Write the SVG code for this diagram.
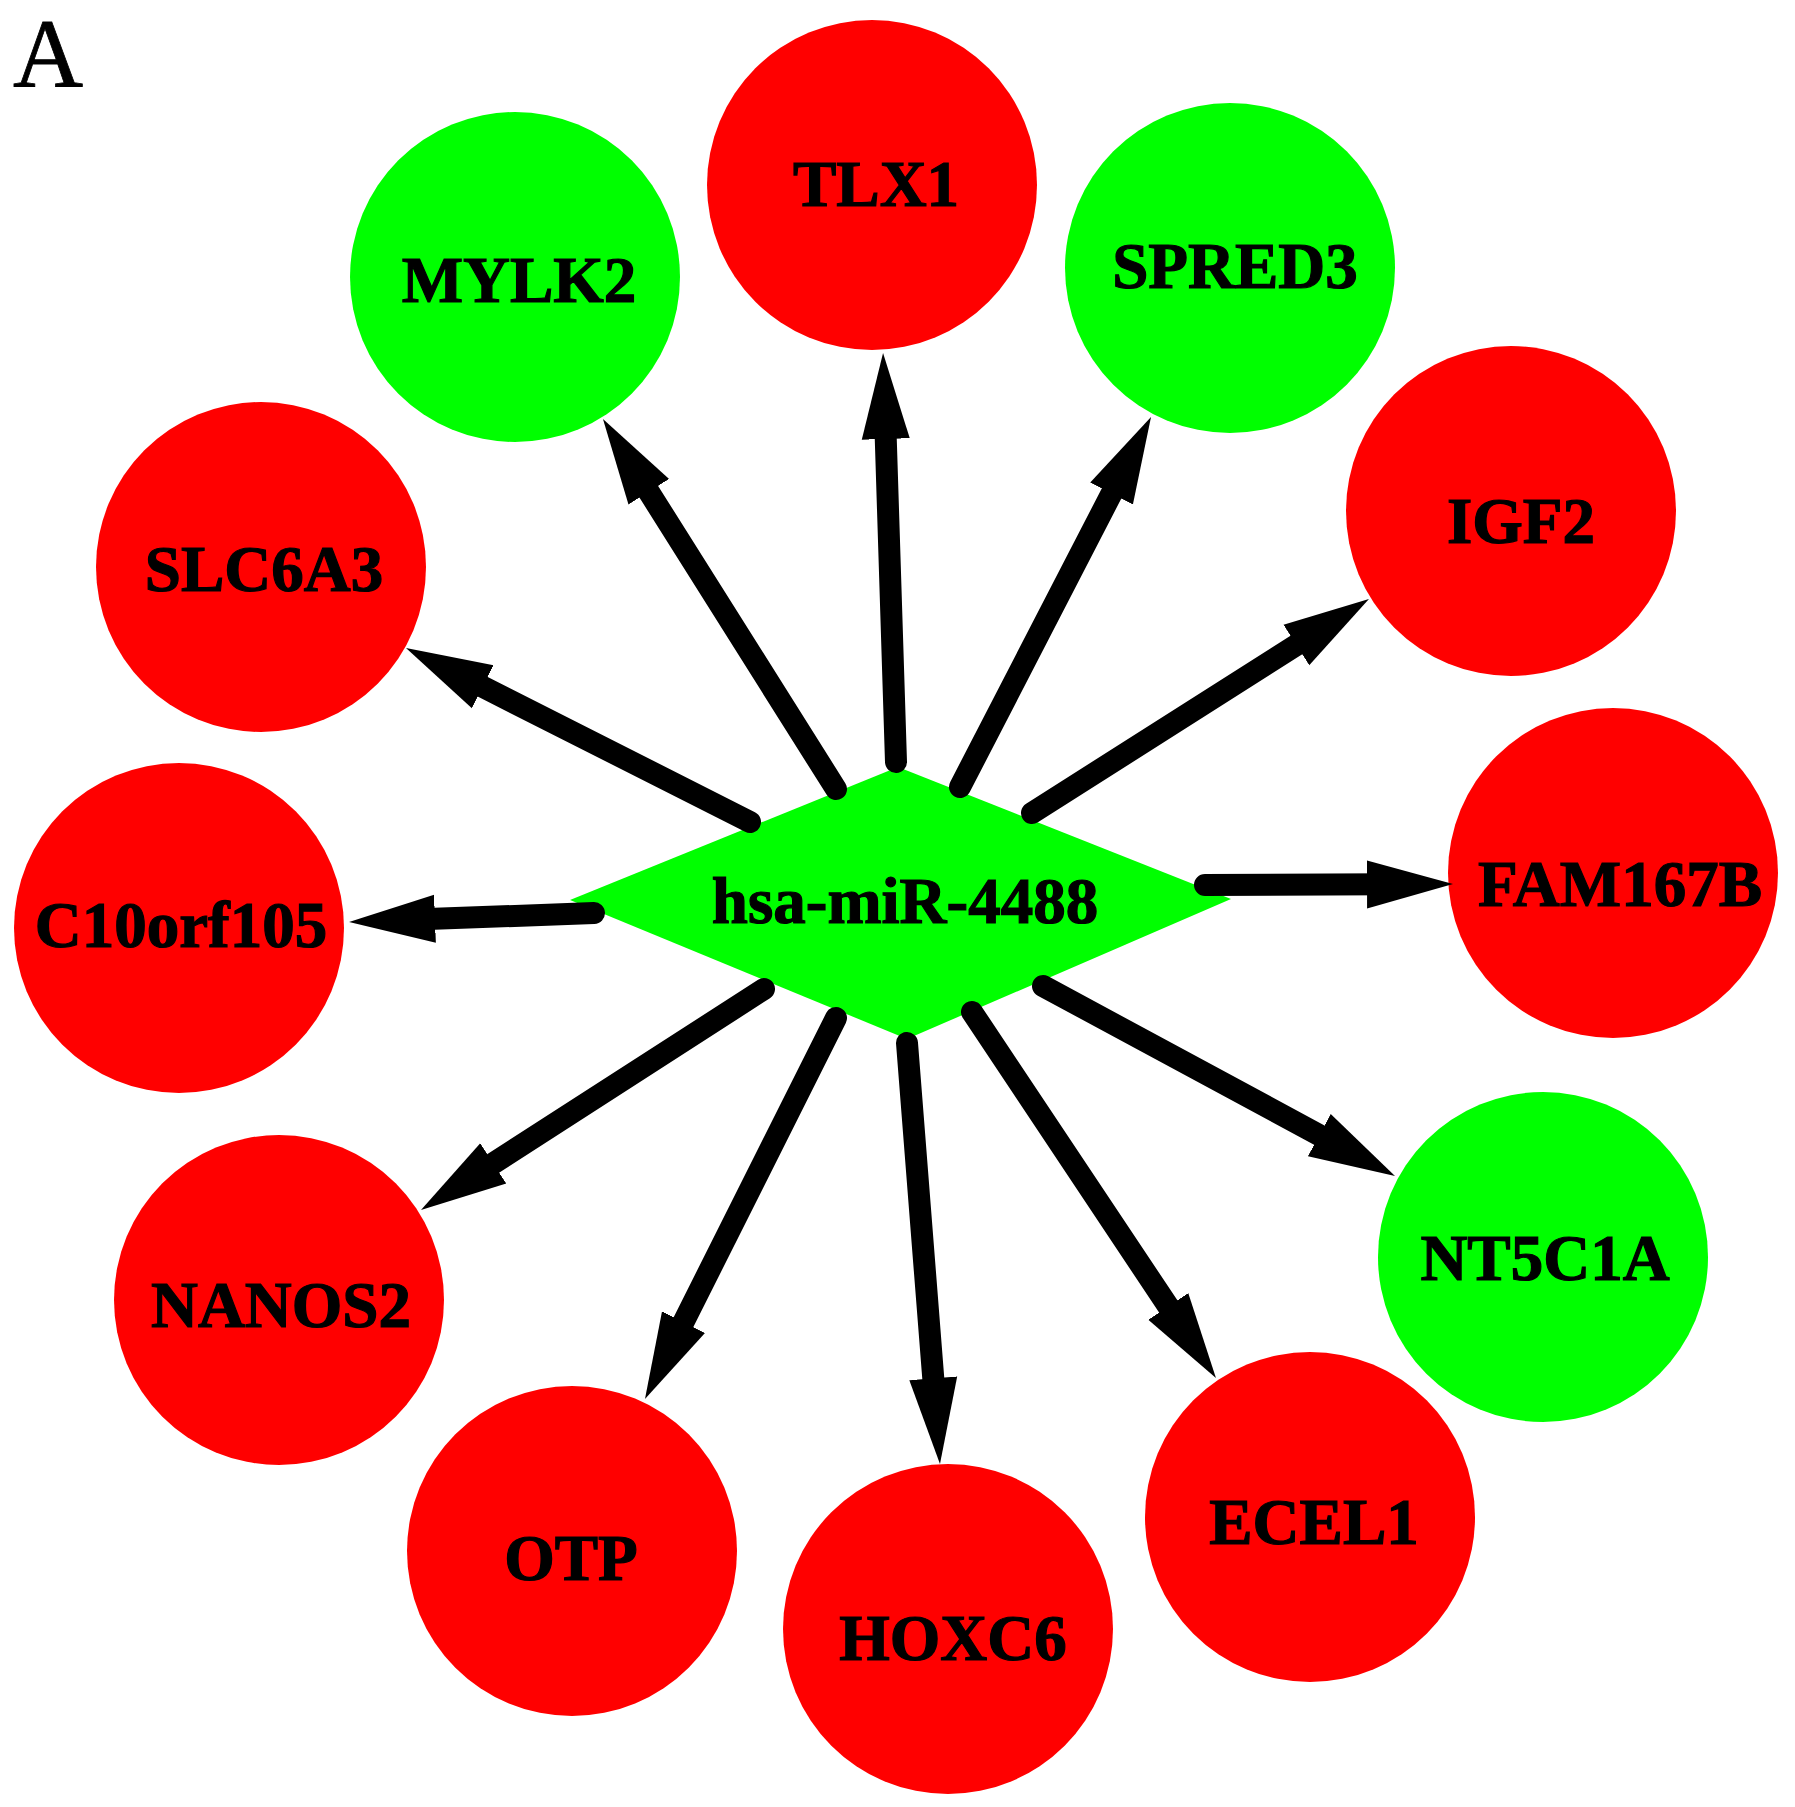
<svg xmlns="http://www.w3.org/2000/svg" width="1795" height="1807" viewBox="0 0 1795 1807">
<style>
.red{fill:#FF0000}
.grn{fill:#00FF00}
.lbl{font-family:"Liberation Serif","Times New Roman",serif;font-weight:bold;font-size:65px;fill:#000;stroke:#000;stroke-width:1.2;text-anchor:middle}
.edge{stroke:#000;stroke-width:22;stroke-linecap:round;fill:none;marker-end:url(#ah)}
</style>
<defs>
<marker id="ah" markerUnits="userSpaceOnUse" markerWidth="90" markerHeight="50" refX="21" refY="25" orient="auto">
<path d="M0,1 L86,25 L0,49 z" fill="#000"/>
</marker>
</defs>
<rect width="1795" height="1807" fill="#fff"/>
<text x="13" y="86" font-family="'Liberation Serif','Times New Roman',serif" font-size="97" fill="#000" stroke="#000" stroke-width="0.8">A</text>
<g id="node-MYLK2"><circle class="grn" cx="515" cy="277" r="165"/><text class="lbl" x="519" y="302">MYLK2</text></g>
<g id="node-TLX1"><circle class="red" cx="872" cy="185" r="165"/><text class="lbl" x="876" y="206">TLX1</text></g>
<g id="node-SPRED3"><circle class="grn" cx="1230" cy="268" r="165"/><text class="lbl" x="1235" y="288">SPRED3</text></g>
<g id="node-IGF2"><circle class="red" cx="1511" cy="511" r="165"/><text class="lbl" x="1521" y="543">IGF2</text></g>
<g id="node-FAM167B"><circle class="red" cx="1613" cy="873" r="165"/><text class="lbl" x="1620" y="906">FAM167B</text></g>
<g id="node-NT5C1A"><circle class="grn" cx="1543" cy="1257" r="165"/><text class="lbl" x="1545" y="1280">NT5C1A</text></g>
<g id="node-ECEL1"><circle class="red" cx="1310" cy="1517" r="165"/><text class="lbl" x="1314" y="1544">ECEL1</text></g>
<g id="node-HOXC6"><circle class="red" cx="948" cy="1629" r="165"/><text class="lbl" x="953" y="1660">HOXC6</text></g>
<g id="node-OTP"><circle class="red" cx="572" cy="1551" r="165"/><text class="lbl" x="571" y="1580">OTP</text></g>
<g id="node-NANOS2"><circle class="red" cx="279" cy="1300" r="165"/><text class="lbl" x="281" y="1327">NANOS2</text></g>
<g id="node-C10orf105"><circle class="red" cx="179" cy="928" r="165"/><text class="lbl" x="181" y="947">C10orf105</text></g>
<g id="node-SLC6A3"><circle class="red" cx="261" cy="567" r="165"/><text class="lbl" x="264" y="591">SLC6A3</text></g>
<g id="node-hsa-miR-4488"><polygon class="grn" points="570,900 898,767 1231,899 907,1039"/><text class="lbl" x="905" y="923">hsa-miR-4488</text></g>
<g id="connectors">
<line class="edge" x1="836" y1="789" x2="637.6" y2="474"/>
<line class="edge" x1="896" y1="762" x2="885.1" y2="418"/>
<line class="edge" x1="960" y1="787" x2="1121.2" y2="474.8"/>
<line class="edge" x1="1032" y1="813" x2="1314.1" y2="633.8"/>
<line class="edge" x1="1205" y1="885" x2="1388" y2="884.3"/>
<line class="edge" x1="1043" y1="986" x2="1337.8" y2="1145.1"/>
<line class="edge" x1="972" y1="1012" x2="1179.9" y2="1323.9"/>
<line class="edge" x1="907" y1="1043" x2="934.9" y2="1399.2"/>
<line class="edge" x1="836" y1="1018" x2="674.1" y2="1340.9"/>
<line class="edge" x1="764" y1="989" x2="475.6" y2="1174.8"/>
<line class="edge" x1="594" y1="913" x2="414" y2="919.6"/>
<line class="edge" x1="750" y1="822" x2="464" y2="677.3"/>
</g>
</svg>
